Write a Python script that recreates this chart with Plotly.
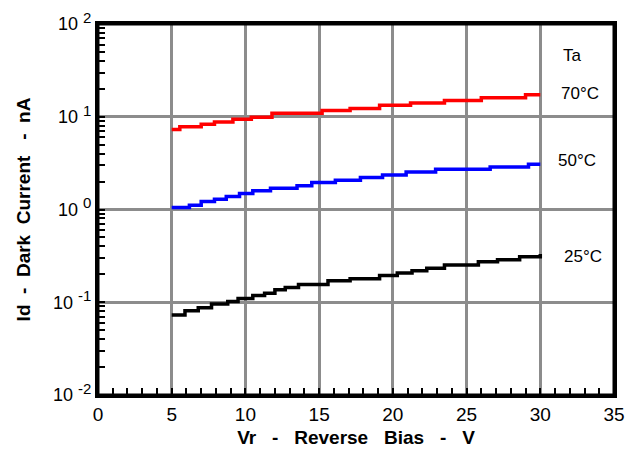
import plotly.graph_objects as go

# ── Data (staircase points, Vr in V, Id in nA) ───────────────────────────────

vr_70 = [5.0, 5.55, 7.0, 7.9, 9.15, 10.4, 11.8, 15.2, 17.1, 19.1, 21.2, 23.5, 26.0, 29.0, 30.0]
id_70 = [7.3, 7.8, 8.3, 8.8, 9.4, 9.9, 10.9, 11.7, 12.3, 13.3, 14.1, 15.0, 16.0, 17.3, 17.3]

vr_50 = [5.0, 6.2, 7.0, 7.9, 8.7, 9.6, 10.5, 11.7, 13.5, 14.5, 16.1, 17.8, 19.3, 20.9,
         22.9, 26.6, 29.2, 30.0]
id_50 = [1.05, 1.11, 1.22, 1.29, 1.38, 1.49, 1.59, 1.70, 1.80, 1.95, 2.07, 2.21, 2.36, 2.54,
         2.72, 2.88, 3.07, 3.07]

vr_25 = [5.0, 5.9, 6.8, 7.7, 8.8, 9.5, 10.5, 11.3, 12.0, 12.7, 13.6, 15.6, 17.1, 19.1,
         20.3, 21.3, 22.3, 23.5, 25.8, 27.1, 28.6, 30.0]
id_25 = [0.073, 0.081, 0.087, 0.096, 0.102, 0.110, 0.118, 0.125, 0.136, 0.144, 0.155,
         0.171, 0.179, 0.194, 0.207, 0.219, 0.232, 0.252, 0.274, 0.288, 0.310, 0.331]

y_tickvals = [0.01, 0.1, 1, 10, 100]
y_exponents = ["-2", "-1", "0", "1", "2"]
y_ticktext = [f"10 <sup><span style='font-size:15px'>{e}</span></sup>" for e in y_exponents]

FONT = "Liberation Sans, Arial, sans-serif"
GRID = "#8c8c8c"
SP = "\u00a0"

fig = go.Figure()

for vr, idv, color in [(vr_70, id_70, "#ff0000"),
                       (vr_50, id_50, "#0000ff"),
                       (vr_25, id_25, "#000000")]:
    fig.add_trace(go.Scatter(
        x=vr, y=idv,
        mode="lines",
        line=dict(color=color, width=3.5, shape="hv"),
        showlegend=False,
        hoverinfo="skip",
    ))

# Temperature labels on the right (annotation y on a log axis is log10 units)
for txt, x, y in [("Ta", 32.2, 1.66),
                  ("70°C", 32.7, 1.255),
                  ("50°C", 32.5, 0.524),
                  ("25°C", 32.9, -0.509)]:
    fig.add_annotation(x=x, y=y, text=txt, showarrow=False,
                       font=dict(family=FONT, size=17, color="black"))

# black frame round the plot area
fig.add_shape(type="rect", xref="paper", yref="paper", x0=0, x1=1, y0=0, y1=1,
              line=dict(color="black", width=3), layer="above")

fig.update_layout(
    width=637, height=456,
    margin=dict(l=98, r=23, t=24, b=61),
    paper_bgcolor="white",
    plot_bgcolor="white",
    font=dict(family=FONT, color="black"),
)

fig.update_xaxes(
    range=[0, 35],
    dtick=5,
    automargin=False,
    showgrid=True, gridcolor=GRID, gridwidth=3,
    zeroline=False,
    showline=True, linecolor="black", linewidth=3, mirror=True,
    ticks="inside", ticklen=7, tickwidth=2, tickcolor="black",
    minor=dict(ticks="inside", dtick=1, ticklen=7, tickwidth=2, tickcolor="black", showgrid=False),
    tickfont=dict(family=FONT, size=19),
    title=dict(text=f"Vr{SP*3}-{SP*3}Reverse{SP*3}Bias{SP*3}-{SP*3}V",
               font=dict(family=FONT, size=19, weight="bold"), standoff=7),
)

fig.update_yaxes(
    type="log",
    range=[-2, 2],
    automargin=False,
    tickvals=y_tickvals, ticktext=y_ticktext,
    showgrid=True, gridcolor=GRID, gridwidth=3,
    zeroline=False,
    showline=True, linecolor="black", linewidth=3, mirror=True,
    ticks="inside", ticklen=7, tickwidth=2, tickcolor="black",
    minor=dict(ticks="inside", dtick="D1", ticklen=7, tickwidth=2, tickcolor="black", showgrid=False),
    tickfont=dict(family=FONT, size=18),
    title=dict(text=f"Id{SP*2}-{SP*2}Dark{SP*2}Current{SP*3}-{SP*2}nA",
               font=dict(family=FONT, size=19, weight="bold"), standoff=18),
)

# drop the page's default body margin so the figure sits at the window corner
fig.write_html("out.html", config={"displayModeBar": False},
               post_script="document.body.style.margin='0';")
